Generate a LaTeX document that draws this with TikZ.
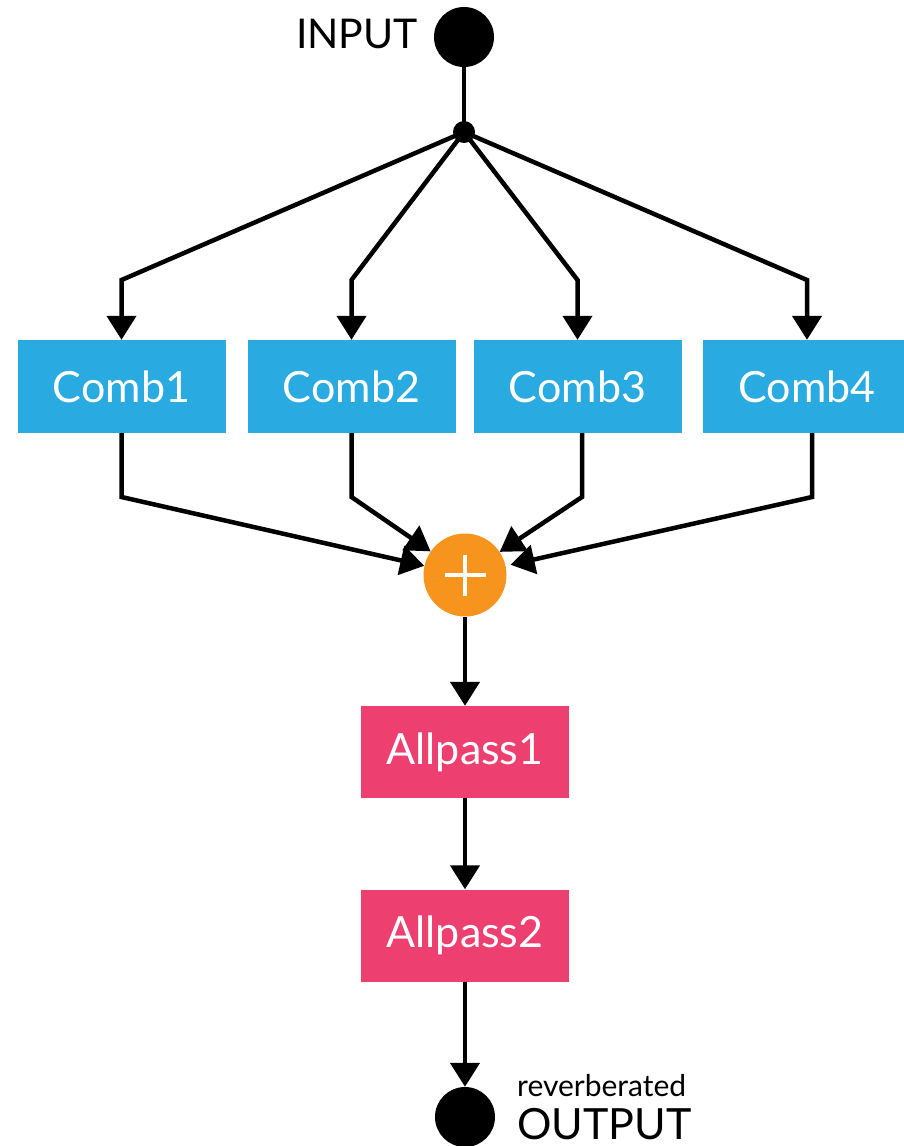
\documentclass[tikz,border=0pt]{standalone}
\usepackage{fontspec}
\setmainfont{Lato}
\usetikzlibrary{arrows.meta}
\definecolor{combblue}{HTML}{29ABE2}
\definecolor{allpink}{HTML}{EE4070}
\definecolor{sumorange}{HTML}{F7941E}
\tikzset{
  wire/.style={line width=4.5pt, black, line join=miter},
  arr/.style={wire, -{Triangle[width=29pt,length=24pt]}},
  combbox/.style={rectangle, fill=combblue, text=white, minimum width=208pt,
    minimum height=93pt, inner sep=0pt, font=\fontsize{43}{48}\selectfont},
  apbox/.style={rectangle, fill=allpink, text=white, minimum width=208pt,
    minimum height=92pt, inner sep=0pt, font=\fontsize{43}{48}\selectfont},
  terminal/.style={circle, fill=black, minimum size=60pt, inner sep=0pt},
  junction/.style={circle, fill=black, minimum size=22pt, inner sep=0pt},
  sumnode/.style={circle, fill=sumorange, minimum size=83pt, inner sep=0pt},
  plusbar/.style={line width=4.5pt, white},
  label/.style={inner sep=0pt, text depth=0pt, font=\fontsize{#1}{#1}\selectfont},
}
\begin{document}
\begin{tikzpicture}[x=1pt, y=-1pt]
  \useasboundingbox (0,0) rectangle (904,1146);

  % signal source and splitting point
  \node[terminal] (inp) at (464,37) {};
  \node[label=41, anchor=base east] (inlabel) at (418,48) {INPUT};
  \node[junction] (jn) at (464,132) {};

  % comb filters
  \node[combbox] (c1) at (121.5,386.5) {Comb1};
  \node[combbox] (c2) at (351.5,386.5) {Comb2};
  \node[combbox] (c3) at (577.5,386.5) {Comb3};
  \node[combbox] (c4) at (807,386.5) {Comb4};

  % summing node
  \node[sumnode] (sum) at (465,575) {};
  \draw[plusbar] (sum.center) ++(-20.5,0) -- ++(41,0);
  \draw[plusbar] (sum.center) ++(0,-20.5) -- ++(0,41);

  % allpass chain
  \node[apbox] (ap1) at (465,752) {Allpass1};
  \node[apbox] (ap2) at (465,935.5) {Allpass2};

  % output
  \node[terminal] (out) at (465,1117) {};
  \node[label=30, anchor=base west] (revlabel) at (517,1096) {reverberated};
  \node[label=43, anchor=base west] (outlabel) at (517,1139) {OUTPUT};

  % bends of the fan-out
  \coordinate (b1) at (121.5,280);
  \coordinate (b2) at (351.5,280);
  \coordinate (b3) at (577.5,280);
  \coordinate (b4) at (807,280);

  % bends of the fan-in
  \coordinate (d1) at (121.5,497);
  \coordinate (d2) at (351.5,497);
  \coordinate (d3) at (582,497);
  \coordinate (d4) at (812,497);

  \draw[wire] (inp) -- (jn.center);
  \draw[arr] (jn.center) -- (b1) -- (c1.north);
  \draw[arr] (jn.center) -- (b2) -- (c2.north);
  \draw[arr] (jn.center) -- (b3) -- (c3.north);
  \draw[arr] (jn.center) -- (b4) -- (c4.north);

  \draw[arr] (c1.south) -- (d1) -- (sum);
  \draw[arr] (c2.south) -- (d2) -- (sum);
  \draw[arr] (c3.south -| d3) -- (d3) -- (sum);
  \draw[arr, shorten >=5pt] (c4.south -| d4) -- (d4) -- (sum);

  \draw[arr] (sum) -- (ap1);
  \draw[arr] (ap1) -- (ap2);
  \draw[arr] (ap2) -- (out);
\end{tikzpicture}
\end{document}
